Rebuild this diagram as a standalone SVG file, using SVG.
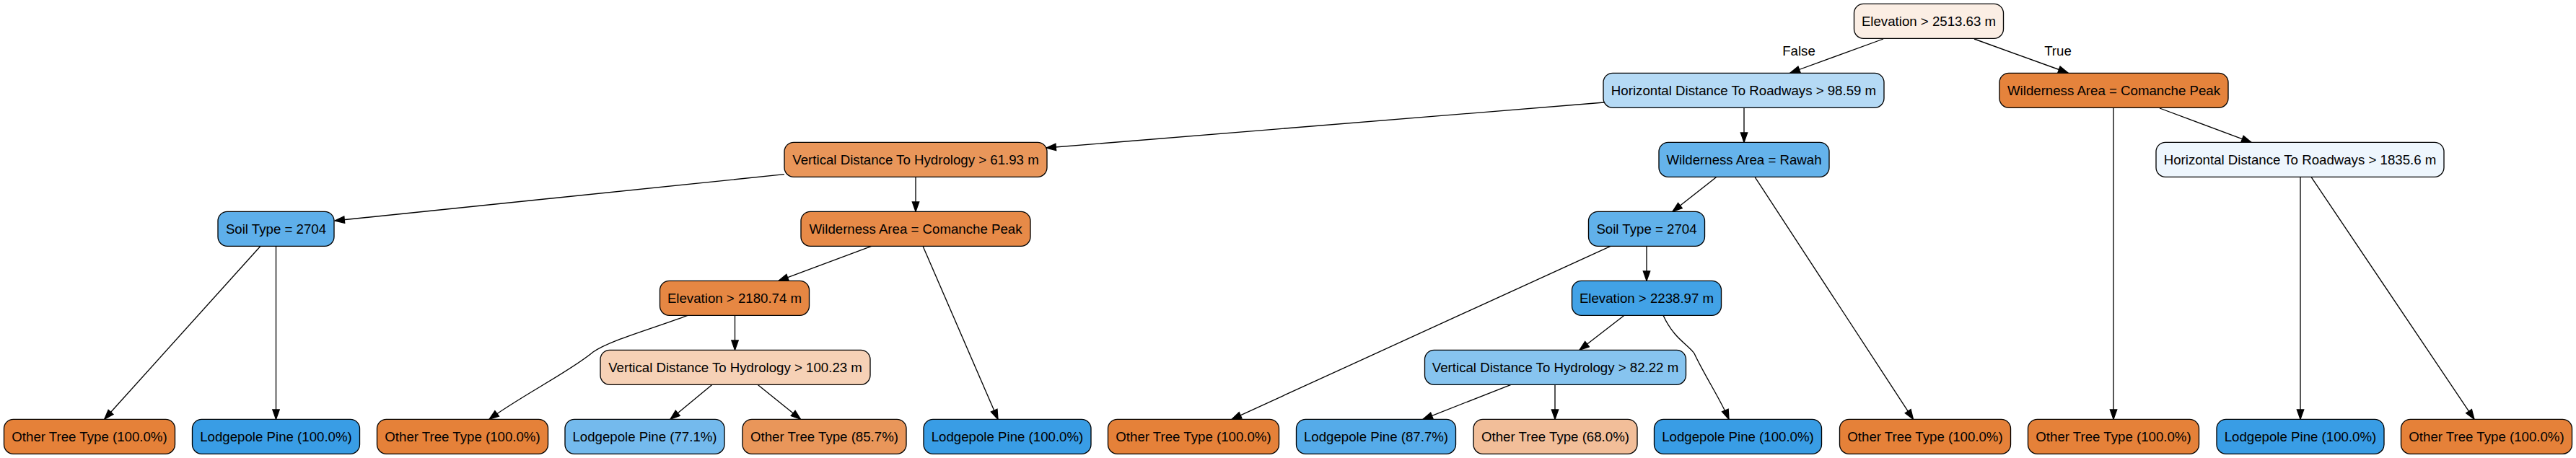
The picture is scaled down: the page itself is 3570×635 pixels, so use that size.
<svg xmlns="http://www.w3.org/2000/svg" width="3570" height="635" viewBox="0 0 3570 635">
<style>
.node rect{stroke:#000;stroke-width:1.33}
.node text,.lbl{font-family:"Liberation Sans",Arial,Helvetica,sans-serif;font-size:18.67px;fill:#000;text-anchor:middle}
.edges path{fill:none;stroke:#000;stroke-width:1.33;marker-end:url(#arr)}
</style>
<defs>
<marker id="arr" markerUnits="userSpaceOnUse" markerWidth="16" markerHeight="12" refX="13.33" refY="4.67" orient="auto" viewBox="-1 -1 16 12">
<path d="M0,0 L13.33,4.67 L0,9.33 Z" fill="#000" stroke="#000" stroke-width="1.33"/>
</marker>
</defs>
<rect width="3570" height="635" fill="#fff"/>
<g class="edges" id="edges">
<path d="M2610,54 L2481,101"/>
<path d="M2736,54 L2866,101"/>
<path d="M2223,142 L1450,205"/>
<path d="M2417,149.3 L2417,197.3"/>
<path d="M2929,149.3 L2929,581.3"/>
<path d="M2993,150 L3120,197.3"/>
<path d="M1087,241.7 L464,306"/>
<path d="M1269,245.3 L1269,293.3"/>
<path d="M2379,245.3 L2318,293.3"/>
<path d="M2432,245.3 L2651.5,581.3"/>
<path d="M3188,245.3 L3188,581.3"/>
<path d="M3203,245.3 L3429,581.3"/>
<path d="M361,341.3 L144.7,581.3"/>
<path d="M382.5,341.3 L382.5,581.3"/>
<path d="M1207.7,341.3 L1079,389.3"/>
<path d="M1279,341.3 L1383,581.3"/>
<path d="M2232,341.3 L1707,581.3"/>
<path d="M2282,341.3 L2282,389.3"/>
<path d="M953,437.3 C900,457 845,472 822,488 C790,515 720,550 678,581.3"/>
<path d="M1018.5,437.3 L1018.5,485.3"/>
<path d="M2251,437.3 L2189,485.3"/>
<path d="M2305,437.3 C2320,470 2340,478 2348,490 C2362,520 2385,555 2396,581.3"/>
<path d="M987,533.3 L929,581.3"/>
<path d="M1050,533.3 L1109.5,581.3"/>
<path d="M2094,533.3 L1972,581.3"/>
<path d="M2155,533.3 L2155,581.3"/>
</g>
<text class="lbl" x="2493" y="76.5">False</text>
<text class="lbl" x="2852" y="76.5">True</text>
<g class="node" id="n0"><rect x="2569.5" y="5.33" width="207" height="48" rx="13" fill="#fbeee4"/><text x="2673" y="35.5">Elevation &gt; 2513.63 m</text></g>
<g class="node" id="n1"><rect x="2222" y="101.33" width="389" height="48" rx="13" fill="#b5daf5"/><text x="2416.5" y="131.5">Horizontal Distance To Roadways &gt; 98.59 m</text></g>
<g class="node" id="n2"><rect x="2771" y="101.33" width="317" height="48" rx="13" fill="#e5833c"/><text x="2929.5" y="131.5">Wilderness Area = Comanche Peak</text></g>
<g class="node" id="n3"><rect x="1087" y="197.33" width="364" height="48" rx="13" fill="#e9965a"/><text x="1269" y="227.5">Vertical Distance To Hydrology &gt; 61.93 m</text></g>
<g class="node" id="n4"><rect x="2299" y="197.33" width="236" height="48" rx="13" fill="#65b3eb"/><text x="2417" y="227.5">Wilderness Area = Rawah</text></g>
<g class="node" id="n5"><rect x="2988" y="197.33" width="399" height="48" rx="13" fill="#eef6fd"/><text x="3187.5" y="227.5">Horizontal Distance To Roadways &gt; 1835.6 m</text></g>
<g class="node" id="n6"><rect x="302" y="293.33" width="161" height="48" rx="13" fill="#5eafea"/><text x="382.5" y="323.5">Soil Type = 2704</text></g>
<g class="node" id="n7"><rect x="1110" y="293.33" width="318" height="48" rx="13" fill="#e78a48"/><text x="1269" y="323.5">Wilderness Area = Comanche Peak</text></g>
<g class="node" id="n8"><rect x="2201.5" y="293.33" width="161" height="48" rx="13" fill="#61b1ea"/><text x="2282" y="323.5">Soil Type = 2704</text></g>
<g class="node" id="n9"><rect x="914.5" y="389.33" width="207" height="48" rx="13" fill="#e68743"/><text x="1018" y="419.5">Elevation &gt; 2180.74 m</text></g>
<g class="node" id="n10"><rect x="2178.5" y="389.33" width="207" height="48" rx="13" fill="#42a2e6"/><text x="2282" y="419.5">Elevation &gt; 2238.97 m</text></g>
<g class="node" id="n11"><rect x="832" y="485.33" width="374" height="48" rx="13" fill="#f6d1b6"/><text x="1019" y="515.5">Vertical Distance To Hydrology &gt; 100.23 m</text></g>
<g class="node" id="n12"><rect x="1974.5" y="485.33" width="362" height="48" rx="13" fill="#87c4ef"/><text x="2155.5" y="515.5">Vertical Distance To Hydrology &gt; 82.22 m</text></g>
<g class="node" id="l1"><rect x="5.5" y="581.33" width="237" height="48" rx="13" fill="#e58139"/><text x="124" y="611.5">Other Tree Type (100.0%)</text></g>
<g class="node" id="l2"><rect x="266.5" y="581.33" width="232" height="48" rx="13" fill="#399de5"/><text x="382.5" y="611.5">Lodgepole Pine (100.0%)</text></g>
<g class="node" id="l3"><rect x="522.5" y="581.33" width="237" height="48" rx="13" fill="#e58139"/><text x="641" y="611.5">Other Tree Type (100.0%)</text></g>
<g class="node" id="l4"><rect x="783" y="581.33" width="221" height="48" rx="13" fill="#74baed"/><text x="893.5" y="611.5">Lodgepole Pine (77.1%)</text></g>
<g class="node" id="l5"><rect x="1029" y="581.33" width="227" height="48" rx="13" fill="#e9965a"/><text x="1142.5" y="611.5">Other Tree Type (85.7%)</text></g>
<g class="node" id="l6"><rect x="1280" y="581.33" width="232" height="48" rx="13" fill="#399de5"/><text x="1396" y="611.5">Lodgepole Pine (100.0%)</text></g>
<g class="node" id="l7"><rect x="1535.5" y="581.33" width="237" height="48" rx="13" fill="#e58139"/><text x="1654" y="611.5">Other Tree Type (100.0%)</text></g>
<g class="node" id="l8"><rect x="1796.5" y="581.33" width="221" height="48" rx="13" fill="#55abe9"/><text x="1907" y="611.5">Lodgepole Pine (87.7%)</text></g>
<g class="node" id="l9"><rect x="2042" y="581.33" width="227" height="48" rx="13" fill="#f2be99"/><text x="2155.5" y="611.5">Other Tree Type (68.0%)</text></g>
<g class="node" id="l10"><rect x="2292.5" y="581.33" width="232" height="48" rx="13" fill="#399de5"/><text x="2408.5" y="611.5">Lodgepole Pine (100.0%)</text></g>
<g class="node" id="l11"><rect x="2549.5" y="581.33" width="237" height="48" rx="13" fill="#e58139"/><text x="2668" y="611.5">Other Tree Type (100.0%)</text></g>
<g class="node" id="l12"><rect x="2810.5" y="581.33" width="237" height="48" rx="13" fill="#e58139"/><text x="2929" y="611.5">Other Tree Type (100.0%)</text></g>
<g class="node" id="l13"><rect x="3072" y="581.33" width="232" height="48" rx="13" fill="#399de5"/><text x="3188" y="611.5">Lodgepole Pine (100.0%)</text></g>
<g class="node" id="l14"><rect x="3327.5" y="581.33" width="237" height="48" rx="13" fill="#e58139"/><text x="3446" y="611.5">Other Tree Type (100.0%)</text></g>
</svg>
